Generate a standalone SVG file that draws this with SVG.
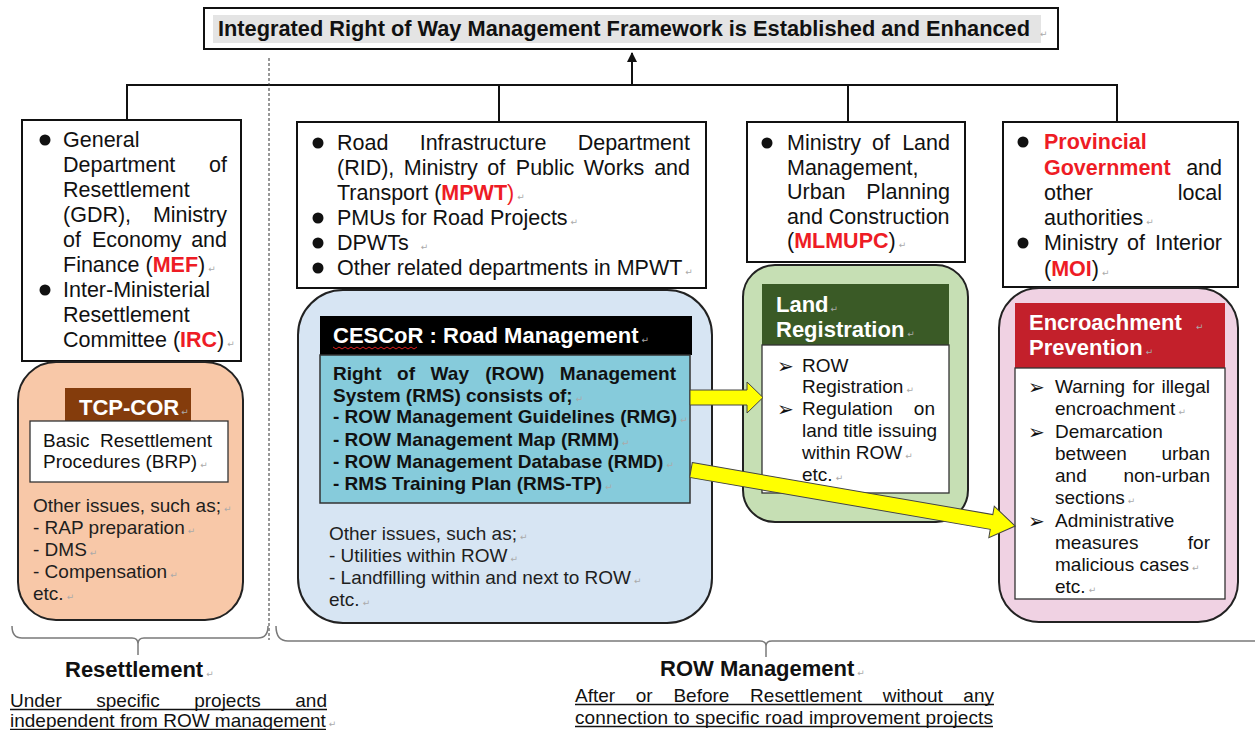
<svg xmlns="http://www.w3.org/2000/svg" width="1255" height="730" viewBox="0 0 1255 730">
<defs>
<style>
text{font-family:"Liberation Sans",Arial,Helvetica,sans-serif;fill:#111}
.b21{font-size:21.5px}
.s19{font-size:19px}
.s19b{font-size:19px;font-weight:bold}
.hd{font-size:22px;font-weight:bold;fill:#fff}
.red{fill:#ee1c25;font-weight:bold}
.redn{fill:#ee1c25}
.pm{font-family:"DejaVu Sans",sans-serif;font-size:9px;fill:#aaa;font-weight:normal}
.arw{font-family:"DejaVu Sans",sans-serif;font-size:20px;fill:#111}
.box{fill:#fff;stroke:#111;stroke-width:2}
.inner{fill:#fff;stroke:#333;stroke-width:1.3}
.dot{fill:#111}
.ln{stroke:#111;stroke-width:2;fill:none}
.br{stroke:#7a7a7a;stroke-width:1.5;fill:none}
.ul{stroke:#111;stroke-width:1.3}
.yel{fill:#ffff00;stroke:#444;stroke-width:1}
.dk{fill:#1e1e1e}
</style>
<marker id="ah" viewBox="0 0 10 10" refX="9" refY="5" markerWidth="5" markerHeight="5" orient="auto"><path d="M0,0 L10,5 L0,10 z" fill="#111"/></marker>
</defs>
<rect width="1255" height="730" fill="#fff"/>

<g id="title">
<rect x="204" y="8" width="854" height="41" class="box"/>
<rect x="213" y="15" width="828" height="28" fill="#e4e4e4"/>
<text x="218" y="36" font-size="22" font-weight="bold" textLength="812" lengthAdjust="spacingAndGlyphs">Integrated Right of Way Management Framework is Established and Enhanced</text>
<text class="pm" x="1040" y="37">↵</text>
</g>

<g id="gdr">
<rect x="22" y="120" width="219" height="241" class="box"/>
<circle cx="45" cy="140" r="5.5" class="dot"/>
<text class="b21" x="63" y="147">General</text>
<text class="b21" x="63" y="172">Department</text><text class="b21" x="227" y="172" text-anchor="end">of</text>
<text class="b21" x="63" y="197">Resettlement</text>
<text class="b21" x="63" y="222">(GDR),</text><text class="b21" x="227" y="222" text-anchor="end">Ministry</text>
<text class="b21" x="63" y="247">of</text><text class="b21" x="92" y="247">Economy</text><text class="b21" x="227" y="247" text-anchor="end">and</text>
<text class="b21" x="63" y="272">Finance (<tspan class="red">MEF</tspan>)<tspan class="pm" dx="3">↵</tspan></text>
<circle cx="45" cy="290" r="5.5" class="dot"/>
<text class="b21" x="63" y="297">Inter-Ministerial</text>
<text class="b21" x="63" y="322">Resettlement</text>
<text class="b21" x="63" y="347">Committee (<tspan class="red">IRC</tspan>)<tspan class="pm" dx="3">↵</tspan></text>
</g>

<g id="tcp-cor">
<rect x="18" y="362" width="225" height="258" rx="38" fill="#f8c8a8" stroke="#222" stroke-width="2"/>
<rect x="65" y="388" width="126" height="36" fill="#843c0c"/>
<text class="hd" x="79" y="415">TCP-COR<tspan class="pm" dx="2">↵</tspan></text>
<rect x="30" y="421" width="198" height="61" class="inner"/>
<text class="s19" x="43" y="447">Basic</text><text class="s19" x="212" y="447" text-anchor="end">Resettlement</text>
<text class="s19" x="43" y="468">Procedures (BRP)<tspan class="pm" dx="3">↵</tspan></text>
<text class="s19 dk" x="33" y="512">Other issues, such as;<tspan class="pm" dx="3">↵</tspan></text>
<text class="s19 dk" x="33" y="534">- RAP preparation<tspan class="pm" dx="3">↵</tspan></text>
<text class="s19 dk" x="33" y="556">- DMS<tspan class="pm" dx="3">↵</tspan></text>
<text class="s19 dk" x="33" y="578">- Compensation<tspan class="pm" dx="3">↵</tspan></text>
<text class="s19 dk" x="33" y="600">etc.<tspan class="pm" dx="3">↵</tspan></text>
</g>

<g id="mpwt">
<rect x="297" y="122" width="409" height="166" class="box"/>
<circle cx="318" cy="143" r="5.5" class="dot"/>
<circle cx="318" cy="218" r="5.5" class="dot"/>
<circle cx="318" cy="243" r="5.5" class="dot"/>
<circle cx="318" cy="268" r="5.5" class="dot"/>
<text class="b21" x="337" y="150">Road</text><text class="b21" x="419.7" y="150">Infrastructure</text><text class="b21" x="690" y="150" text-anchor="end">Department</text>
<text class="b21" x="337" y="175">(RID),</text><text class="b21" x="403.8" y="175">Ministry</text><text class="b21" x="487.2" y="175">of</text><text class="b21" x="515.8" y="175">Public</text><text class="b21" x="583.8" y="175">Works</text><text class="b21" x="690" y="175" text-anchor="end">and</text>
<text class="b21" x="337" y="200">Transport (<tspan class="red">MPWT</tspan><tspan class="redn">)</tspan><tspan class="pm" dx="3">↵</tspan></text>
<text class="b21" x="337" y="225">PMUs for Road Projects<tspan class="pm" dx="3">↵</tspan></text>
<text class="b21" x="337" y="250">DPWTs <tspan class="pm" dx="6">↵</tspan></text>
<text class="b21" x="337" y="275">Other related departments in MPWT<tspan class="pm" dx="3">↵</tspan></text>
</g>

<g id="cescor">
<rect x="298" y="290" width="414" height="333" rx="45" fill="#d7e5f3" stroke="#222" stroke-width="2"/>
<rect x="320" y="316" width="372" height="39" fill="#000"/>
<text class="hd" x="333" y="343">CESCoR : Road Management<tspan class="pm" dx="3">↵</tspan></text>
<path d="M333,347 l3,2 l3,-2 l3,2 l3,-2 l3,2 l3,-2 l3,2 l3,-2 l3,2 l3,-2 l3,2 l3,-2 l3,2 l3,-2 l3,2 l3,-2 l3,2 l3,-2 l3,2 l3,-2 l3,2 l3,-2 l3,2 l3,-2 l3,2 l3,-2 l3,2 l3,-2" fill="none" stroke="#e02020" stroke-width="1"/>
<rect x="320" y="355" width="370" height="148" fill="#86cbdb" stroke="#333" stroke-width="1.5"/>
<text class="s19b" x="333" y="380">Right</text><text class="s19b" x="397.1" y="380">of</text><text class="s19b" x="430.6" y="380">Way</text><text class="s19b" x="485.3" y="380">(ROW)</text><text class="s19b" x="676" y="380" text-anchor="end">Management</text>
<text class="s19b" x="333" y="402">System (RMS) consists of;<tspan class="pm" dx="3">↵</tspan></text>
<text class="s19b" x="333" y="423">- ROW Management Guidelines (RMG)<tspan class="pm" dx="3">↵</tspan></text>
<text class="s19b" x="333" y="446">- ROW Management Map (RMM)<tspan class="pm" dx="3">↵</tspan></text>
<text class="s19b" x="333" y="468">- ROW Management Database (RMD)<tspan class="pm" dx="3">↵</tspan></text>
<text class="s19b" x="333" y="490">- RMS Training Plan (RMS-TP)<tspan class="pm" dx="3">↵</tspan></text>
<text class="s19 dk" x="329" y="540">Other issues, such as;<tspan class="pm" dx="3">↵</tspan></text>
<text class="s19 dk" x="329" y="562">- Utilities within ROW<tspan class="pm" dx="3">↵</tspan></text>
<text class="s19 dk" x="329" y="584">- Landfilling within and next to ROW<tspan class="pm" dx="3">↵</tspan></text>
<text class="s19 dk" x="329" y="606">etc.<tspan class="pm" dx="3">↵</tspan></text>
</g>

<g id="mlmupc">
<rect x="747" y="122" width="218" height="140" class="box"/>
<circle cx="767" cy="143" r="5.5" class="dot"/>
<text class="b21" x="787" y="150">Ministry</text><text class="b21" x="872" y="150">of</text><text class="b21" x="950" y="150" text-anchor="end">Land</text>
<text class="b21" x="787" y="175">Management,</text>
<text class="b21" x="787" y="199">Urban</text><text class="b21" x="950" y="199" text-anchor="end">Planning</text>
<text class="b21" x="787" y="224">and Construction</text>
<text class="b21" x="787" y="248">(<tspan class="red">MLMUPC</tspan>)<tspan class="pm" dx="3">↵</tspan></text>
</g>

<g id="land-registration">
<rect x="743" y="265" width="225" height="257" rx="32" fill="#c6dfb4" stroke="#222" stroke-width="2"/>
<rect x="762" y="284" width="187" height="61" fill="#3a5a26"/>
<text class="hd" x="776" y="312">Land<tspan class="pm" dx="2">↵</tspan></text>
<text class="hd" x="776" y="337">Registration<tspan class="pm" dx="3">↵</tspan></text>
<rect x="762" y="345" width="187" height="148" class="inner"/>
<text class="arw" x="777" y="373">➢</text>
<text class="arw" x="777" y="416">➢</text>
<text class="s19" x="802" y="372">ROW</text>
<text class="s19" x="802" y="393">Registration<tspan class="pm" dx="3">↵</tspan></text>
<text class="s19" x="802" y="415">Regulation</text><text class="s19" x="935" y="415" text-anchor="end">on</text>
<text class="s19" x="802" y="437">land title issuing</text>
<text class="s19" x="802" y="459">within ROW<tspan class="pm" dx="3">↵</tspan></text>
<text class="s19" x="802" y="481">etc.<tspan class="pm" dx="3">↵</tspan></text>
</g>

<g id="moi">
<rect x="1003" y="122" width="235" height="165" class="box"/>
<circle cx="1023" cy="142" r="5.5" class="dot"/>
<circle cx="1023" cy="243" r="5.5" class="dot"/>
<text class="b21 red" x="1044" y="149">Provincial</text>
<text class="b21 red" x="1044" y="175">Government</text><text class="b21" x="1222" y="175" text-anchor="end">and</text>
<text class="b21" x="1044" y="200">other</text><text class="b21" x="1222" y="200" text-anchor="end">local</text>
<text class="b21" x="1044" y="225">authorities<tspan class="pm" dx="3">↵</tspan></text>
<text class="b21" x="1044" y="250">Ministry</text><text class="b21" x="1127" y="250">of</text><text class="b21" x="1222" y="250" text-anchor="end">Interior</text>
<text class="b21" x="1044" y="276">(<tspan class="red">MOI</tspan>)<tspan class="pm" dx="3">↵</tspan></text>
</g>

<g id="encroachment-prevention">
<rect x="999" y="288" width="239" height="334" rx="40" fill="#f0d2e3" stroke="#222" stroke-width="2"/>
<rect x="1015" y="303" width="210" height="65" fill="#c3202b"/>
<text class="hd" x="1029" y="330">Encroachment <tspan class="pm" dx="8">↵</tspan></text>
<text class="hd" x="1029" y="355">Prevention<tspan class="pm" dx="3">↵</tspan></text>
<rect x="1015" y="368" width="210" height="231" class="inner"/>
<text class="arw" x="1028" y="394">➢</text>
<text class="arw" x="1028" y="439">➢</text>
<text class="arw" x="1028" y="528">➢</text>
<text class="s19" x="1055" y="393">Warning</text><text class="s19" x="1132.5" y="393">for</text><text class="s19" x="1210" y="393" text-anchor="end">illegal</text>
<text class="s19" x="1055" y="415">encroachment<tspan class="pm" dx="3">↵</tspan></text>
<text class="s19" x="1055" y="438">Demarcation</text>
<text class="s19" x="1055" y="460">between</text><text class="s19" x="1210" y="460" text-anchor="end">urban</text>
<text class="s19" x="1055" y="482">and</text><text class="s19" x="1210" y="482" text-anchor="end">non-urban</text>
<text class="s19" x="1055" y="504">sections<tspan class="pm" dx="3">↵</tspan></text>
<text class="s19" x="1055" y="527">Administrative</text>
<text class="s19" x="1055" y="549">measures</text><text class="s19" x="1210" y="549" text-anchor="end">for</text>
<text class="s19" x="1055" y="571">malicious cases<tspan class="pm" dx="3">↵</tspan></text>
<text class="s19" x="1055" y="593">etc.<tspan class="pm" dx="3">↵</tspan></text>
</g>

<g id="resettlement-label">
<text x="65" y="677" font-size="22" font-weight="bold">Resettlement<tspan class="pm" dx="3">↵</tspan></text>
<text class="s19" x="10" y="707">Under</text><text class="s19" x="96.3" y="707">specific</text><text class="s19" x="194.2" y="707">projects</text><text class="s19" x="327" y="707" text-anchor="end">and</text>
<line x1="10" y1="709.5" x2="327" y2="709.5" class="ul"/>
<text class="s19" x="10" y="727">independent from ROW management<tspan class="pm" dx="3">↵</tspan></text>
<line x1="10" y1="729.5" x2="326" y2="729.5" class="ul"/>
</g>

<g id="row-label">
<text x="660" y="676" font-size="22" font-weight="bold">ROW Management<tspan class="pm" dx="3">↵</tspan></text>
<text class="s19" x="575" y="702">After</text><text class="s19" x="635.8" y="702">or</text><text class="s19" x="673.4" y="702">Before</text><text class="s19" x="750.1" y="702">Resettlement</text><text class="s19" x="882.7" y="702">without</text><text class="s19" x="994" y="702" text-anchor="end">any</text>
<line x1="575" y1="704.5" x2="994" y2="704.5" class="ul"/>
<text class="s19" x="575" y="724" textLength="418" lengthAdjust="spacing">connection to specific road improvement projects</text>
<line x1="575" y1="726.5" x2="993" y2="726.5" class="ul"/>
</g>

<g id="connectors">
<line x1="632" y1="85" x2="632" y2="53" class="ln" marker-end="url(#ah)"/>
<line x1="126" y1="85" x2="1118" y2="85" class="ln"/>
<line x1="127" y1="85" x2="127" y2="120" class="ln"/>
<line x1="499" y1="85" x2="499" y2="122" class="ln"/>
<line x1="848" y1="85" x2="848" y2="122" class="ln"/>
<line x1="1117" y1="85" x2="1117" y2="122" class="ln"/>
<line x1="269" y1="58" x2="269" y2="640" stroke="#333" stroke-width="1" stroke-dasharray="3,2"/>
<path class="br" d="M12,626 Q12,638 22,638 L132,638 Q138,638 138,644 Q138,638 144,638 L258,638 Q268,638 268,626 M138,644 L138,655"/>
<path class="br" d="M276,626 Q276,641 288,641 L760,641 Q766,641 766,646 Q766,641 772,641 L1255,641 M766,646 L766,657"/>
<polygon class="yel" points="690,390 747,390 747,382 763,397.5 747,413 747,405 690,405"/>
<polygon class="yel" transform="translate(691,470) rotate(9.81)" points="0,-7.5 305,-7.5 305,-16 329,0 305,16 305,7.5 0,7.5"/>
</g>
</svg>
